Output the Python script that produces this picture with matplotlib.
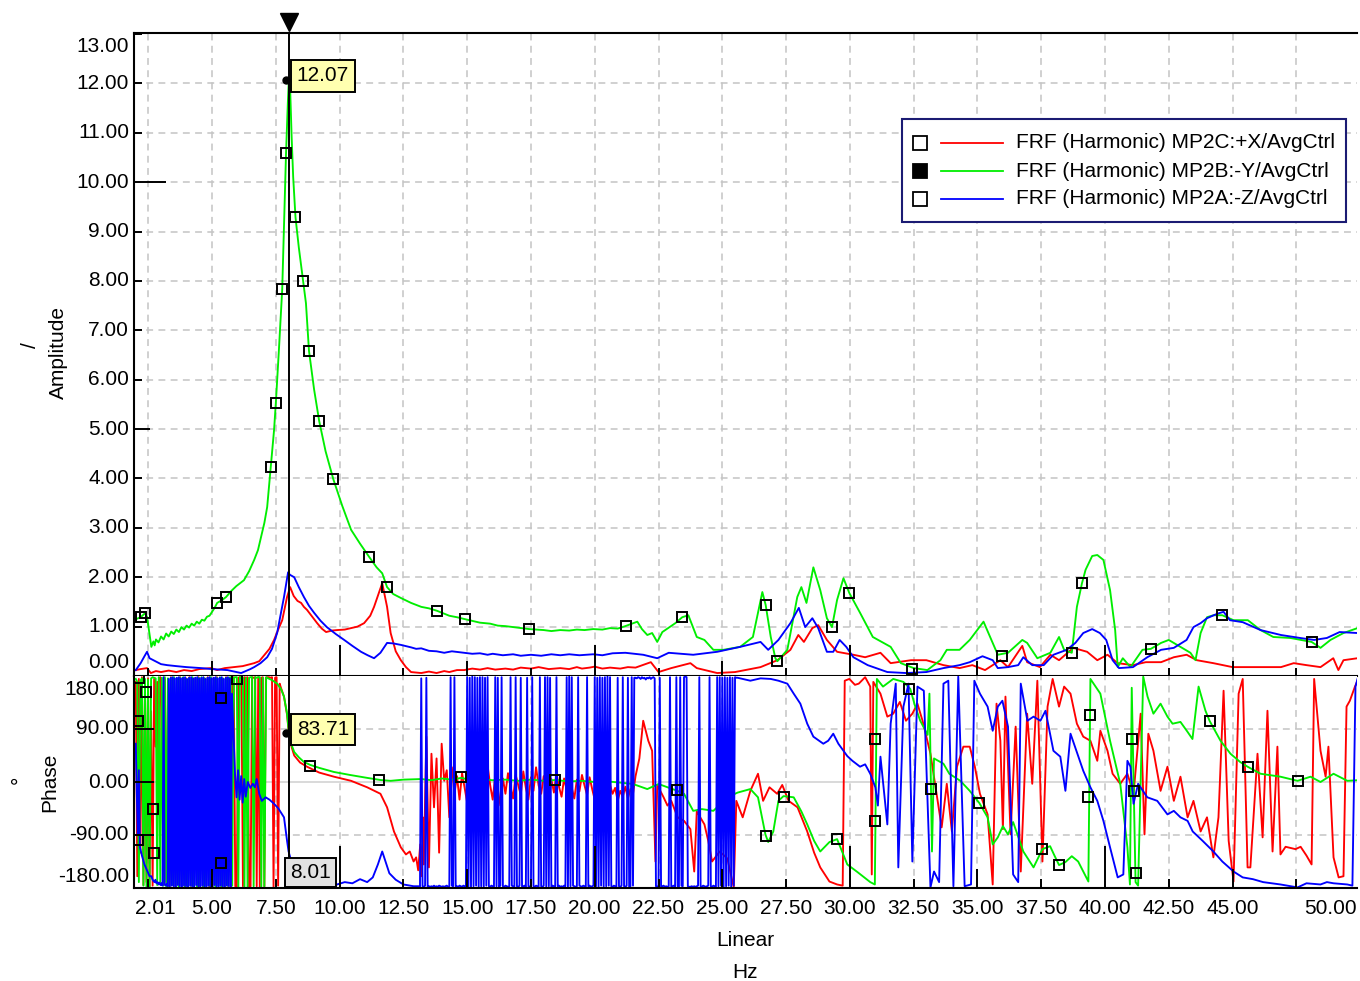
import numpy as np
import matplotlib
matplotlib.use("Agg")
import matplotlib.pyplot as plt
import matplotlib.transforms as mtransforms
from matplotlib.patches import Rectangle
from matplotlib.lines import Line2D

plt.rcParams['font.family'] = ['Liberation Sans', 'DejaVu Sans']

W, H, DPI = 1360, 981, 100
FS = 15

RED, GREEN, BLUE = '#ff0000', '#00ee00', '#0000ff'

series_names = ["FRF (Harmonic) MP2C:+X/AvgCtrl",
                "FRF (Harmonic) MP2B:-Y/AvgCtrl",
                "FRF (Harmonic) MP2A:-Z/AvgCtrl"]

cursor_hz = 8.01
cursor_amp = 12.07
cursor_phase = 83.71

# ---------------- amplitude (Hz, value) ----------------
green_amp = [(2.01, 1.15), (2.2, 1.19), (2.37, 1.27), (2.45, 1.2), (2.55, 0.85), (2.62, 0.59),
             (2.7, 0.70), (2.75, 0.62), (2.8, 0.74), (2.9, 0.68), (3.0, 0.80), (3.1, 0.74),
             (3.2, 0.86), (3.3, 0.80), (3.4, 0.90), (3.5, 0.85), (3.6, 0.94), (3.7, 0.89),
             (3.8, 0.99), (3.9, 0.94), (4.0, 1.02), (4.1, 0.98), (4.2, 1.06), (4.3, 1.02),
             (4.4, 1.10), (4.5, 1.06), (4.6, 1.14), (4.7, 1.12), (4.8, 1.20), (4.9, 1.22),
             (5.0, 1.30), (5.1, 1.38), (5.2, 1.48), (5.4, 1.54), (5.55, 1.60), (5.75, 1.72),
             (5.95, 1.82), (6.1, 1.88), (6.25, 1.94), (6.45, 2.12), (6.65, 2.35), (6.8, 2.55),
             (6.92, 2.81), (7.05, 3.1), (7.16, 3.42), (7.3, 4.23), (7.43, 4.98), (7.5, 5.53),
             (7.62, 6.6), (7.75, 7.83), (7.9, 10.59), (7.97, 11.6), (8.01, 12.07), (8.06, 11.9),
             (8.12, 10.9), (8.18, 10.1), (8.27, 9.29), (8.4, 8.68), (8.57, 8.0), (8.68, 7.55),
             (8.8, 6.58), (9.0, 5.8), (9.2, 5.16), (9.45, 4.55), (9.75, 3.99), (10.1, 3.45),
             (10.45, 2.96), (10.8, 2.68), (11.16, 2.41), (11.45, 2.2), (11.67, 2.08), (11.86, 1.80),
             (12.1, 1.66), (12.4, 1.58), (12.8, 1.48), (13.2, 1.40), (13.5, 1.37), (13.82, 1.32),
             (14.3, 1.22), (14.6, 1.19), (14.92, 1.15), (15.5, 1.08), (15.9, 1.06), (16.2, 1.02),
             (16.5, 1.01), (16.8, 0.99), (17.1, 0.97), (17.43, 0.95), (18.0, 0.93), (18.3, 0.91),
             (18.65, 0.93), (19.0, 0.92), (19.3, 0.94), (19.6, 0.93), (19.94, 0.95), (20.3, 0.94),
             (20.6, 0.97), (20.9, 0.96), (21.2, 1.01), (21.67, 1.1),
             (21.85, 0.95), (22.06, 0.83), (22.25, 0.87), (22.45, 0.69), (22.65, 0.89), (23.16, 1.07),
             (23.43, 1.19), (23.67, 1.23), (24.0, 0.79), (24.3, 0.73), (24.65, 0.53), (25.04, 0.53),
             (25.7, 0.59), (26.2, 0.79), (26.45, 1.4), (26.57, 1.70), (26.7, 1.44), (26.9, 0.79),
             (27.08, 0.36), (27.16, 0.30), (27.55, 0.53), (27.94, 1.6), (28.1, 1.8), (28.3, 1.48),
             (28.57, 2.2), (28.84, 1.74), (29.1, 1.17), (29.3, 0.99), (29.5, 1.54), (29.75, 1.98),
             (29.98, 1.68), (30.4, 1.28), (30.9, 0.79), (31.6, 0.59), (32.0, 0.26), (32.5, 0.16),
             (33.04, 0.12), (33.55, 0.32), (33.8, 0.53), (34.3, 0.53), (34.7, 0.73), (35.24, 1.1),
             (35.5, 0.79), (35.8, 0.43), (36.2, 0.47), (36.76, 0.73), (36.95, 0.67), (37.35, 0.36),
             (37.86, 0.47), (38.2, 0.79), (38.4, 0.53), (38.7, 0.47), (38.9, 1.4), (39.1, 1.88),
             (39.24, 2.15), (39.5, 2.43), (39.7, 2.45), (39.94, 2.35), (40.2, 1.74), (40.4, 0.93),
             (40.5, 0.18), (40.7, 0.36), (41.0, 0.18), (41.47, 0.53), (41.8, 0.55), (42.2, 0.67),
             (42.5, 0.73), (42.96, 0.59), (43.35, 0.47), (43.55, 0.32), (43.75, 0.87), (44.0, 1.19),
             (44.25, 1.23), (44.6, 1.23), (45.04, 1.13), (45.6, 1.13), (46.1, 0.93), (46.6, 0.79),
             (47.27, 0.77), (48.1, 0.69), (48.45, 0.57), (48.84, 0.73), (49.35, 0.87), (49.9, 0.97)]

red_amp = [(2.01, 0.12), (2.2, 0.14), (2.45, 0.16), (2.6, 0.06), (2.8, 0.1), (3.0, 0.08),
           (3.3, 0.11), (3.6, 0.08), (3.9, 0.12), (4.2, 0.1), (4.5, 0.14), (4.96, 0.16),
           (5.2, 0.12), (5.5, 0.16), (5.86, 0.18), (6.2, 0.2), (6.65, 0.26), (6.85, 0.3),
           (7.04, 0.42), (7.25, 0.55), (7.43, 0.73), (7.6, 0.95), (7.75, 1.13), (7.94, 1.6),
           (8.06, 1.8), (8.2, 1.62), (8.35, 1.52), (8.49, 1.48), (8.6, 1.40), (8.72, 1.34),
           (8.9, 1.22), (9.12, 1.07), (9.3, 0.96), (9.47, 0.89), (9.7, 0.92), (9.9, 0.93),
           (10.2, 0.94), (10.45, 0.97), (10.7, 1.0), (10.96, 1.07), (11.2, 1.22), (11.35, 1.4),
           (11.55, 1.7), (11.67, 1.88), (11.78, 1.6), (11.86, 1.4), (12.0, 0.87), (12.2, 0.5),
           (12.4, 0.32), (12.6, 0.18), (12.8, 0.08), (13.2, 0.06), (13.5, 0.09), (13.8, 0.06),
           (14.1, 0.1), (14.3, 0.08), (14.6, 0.12), (14.88, 0.12), (15.2, 0.15), (15.5, 0.13),
           (15.8, 0.16), (16.1, 0.13), (16.5, 0.15), (16.8, 0.13), (17.1, 0.17), (17.5, 0.15),
           (17.8, 0.18), (18.2, 0.14), (18.65, 0.16), (19.0, 0.14), (19.3, 0.18), (19.5, 0.15),
           (19.8, 0.17), (20.0, 0.19), (20.3, 0.15), (20.6, 0.17), (21.0, 0.15), (21.3, 0.18),
           (21.6, 0.17), (22.2, 0.28), (22.5, 0.08), (23.0, 0.16),
           (23.75, 0.26), (24.0, 0.16), (24.8, 0.06), (25.5, 0.08), (26.5, 0.18), (27.16, 0.32),
           (27.67, 0.53), (27.98, 0.83), (28.2, 0.69), (28.53, 0.97), (28.76, 1.03), (29.1, 0.73),
           (29.5, 0.49), (30.14, 0.43), (30.6, 0.38), (31.2, 0.47), (31.6, 0.26), (32.4, 0.32),
           (33.0, 0.32), (33.67, 0.22), (34.3, 0.16), (34.8, 0.22), (35.3, 0.12), (35.9, 0.32),
           (36.2, 0.18), (36.76, 0.61), (36.95, 0.28), (37.45, 0.18), (37.86, 0.43), (38.2, 0.32),
           (38.76, 0.57), (39.3, 0.49), (39.7, 0.32), (40.1, 0.43), (40.5, 0.26), (41.1, 0.22),
           (41.6, 0.28), (42.2, 0.28), (42.7, 0.38), (43.2, 0.43), (43.6, 0.32), (44.25, 0.26),
           (45.0, 0.18), (46.1, 0.18), (46.9, 0.18), (47.4, 0.26), (47.9, 0.22), (48.45, 0.18),
           (48.95, 0.36), (49.15, 0.12), (49.35, 0.32), (49.9, 0.36)]

blue_amp = [(2.01, 0.12), (2.2, 0.26), (2.35, 0.4), (2.45, 0.49), (2.55, 0.36), (2.7, 0.32),
            (3.0, 0.24), (3.24, 0.22), (3.6, 0.2), (4.0, 0.18), (4.57, 0.16), (5.0, 0.14),
            (5.6, 0.12), (6.14, 0.06), (6.5, 0.14), (6.65, 0.18), (6.9, 0.26), (7.16, 0.38),
            (7.35, 0.55), (7.55, 0.87), (7.82, 1.6), (7.98, 2.1), (8.05, 2.05), (8.22, 2.0),
            (8.4, 1.8), (8.6, 1.6), (8.8, 1.42), (9.0, 1.28), (9.25, 1.12), (9.5, 0.99),
            (9.85, 0.85), (10.18, 0.73), (10.5, 0.61), (10.84, 0.49), (11.1, 0.42), (11.35, 0.36),
            (11.6, 0.47), (11.86, 0.67), (12.1, 0.66), (12.4, 0.63), (12.8, 0.58), (13.0, 0.55),
            (13.2, 0.56), (13.5, 0.51), (13.8, 0.50), (14.1, 0.47), (14.4, 0.50), (14.88, 0.47),
            (15.2, 0.45), (15.5, 0.46), (15.8, 0.43), (16.0, 0.45), (16.4, 0.42), (16.8, 0.44),
            (17.1, 0.41), (17.5, 0.43), (17.9, 0.41), (18.3, 0.44), (18.65, 0.42), (19.0, 0.44),
            (19.4, 0.42), (19.94, 0.44), (20.3, 0.42), (20.7, 0.46),
            (21.2, 0.47), (21.9, 0.43), (22.45, 0.36), (22.9, 0.47), (23.86, 0.43), (24.8, 0.49),
            (25.7, 0.59), (26.5, 0.69), (26.8, 0.53), (27.2, 0.73), (27.67, 1.07), (28.0, 1.38),
            (28.25, 0.99), (28.53, 1.17), (28.76, 0.97), (29.1, 0.49), (29.35, 0.49), (29.6, 0.73),
            (29.86, 0.59), (30.14, 0.38), (30.7, 0.22), (31.47, 0.08), (32.2, 0.06), (33.0, 0.08),
            (33.67, 0.16), (34.3, 0.22), (34.7, 0.28), (35.2, 0.40), (35.6, 0.32), (35.8, 0.16),
            (36.2, 0.18), (36.6, 0.22), (36.8, 0.38), (37.15, 0.22), (37.6, 0.22), (37.98, 0.43),
            (38.5, 0.53), (38.84, 0.67), (39.15, 0.87), (39.5, 0.95), (39.8, 0.87), (40.05, 0.73),
            (40.3, 0.32), (40.55, 0.16), (41.1, 0.18), (41.66, 0.38), (42.2, 0.53), (42.7, 0.57),
            (43.2, 0.73), (43.47, 0.99), (43.75, 1.07), (44.0, 1.17), (44.4, 1.26), (44.65, 1.30),
            (44.9, 1.13), (45.4, 1.09), (46.1, 0.93), (46.9, 0.83), (47.65, 0.77), (48.2, 0.73),
            (48.7, 0.77), (49.2, 0.89), (49.9, 0.87)]

amp_marker_hz = [2.2, 2.37, 5.2, 5.55, 7.3, 7.5, 7.75, 7.9, 8.27, 8.57, 8.8, 9.2, 9.75, 11.16,
                 11.86, 13.82, 14.92, 17.43, 21.24, 23.43, 26.7, 27.16, 29.3, 29.98, 32.45,
                 35.98, 38.7, 39.1, 41.8, 44.6, 48.1]
amp_marker_val = [1.19, 1.27, 1.48, 1.60, 4.23, 5.53, 7.83, 10.59, 9.29, 8.0, 6.58, 5.16, 3.99,
                  2.41, 1.80, 1.32, 1.15, 0.95, 1.01, 1.19, 1.44, 0.30, 0.99, 1.68, 0.14,
                  0.40, 0.47, 1.88, 0.55, 1.23, 0.69]

# ---------------- phase ----------------
# wrapped low-frequency bins (0.06 Hz spacing from 2.01 Hz)
red_phase_low = [170, -160, 175, -120, 178, -175, 160, -170, 176, -178, 120, -176, 175, 60, 170,
                 -40, 178, 150, -175, 175, -170,
                 170, -178, 178, -170, 175, -178, 172, -175, 178, -176, 174, -178, 176, -172, 178,
                 -176, 170, -178, 177, -174, 178, -177, 173, -178, 176, -175, 178, -177, 171, -178,
                 177, -176, 178, -172, 176, -178, 174, -177,
                 178, -176, 177, -178, 176, 178, -177, -178, 177, 178, 178, -177, 178, 177, 178,
                 -178, -177, 178, 177, 178, -177, 178, -178, 177, 178, -178, 177, 178, 178, 177,
                 178, -178, 177, 178, -176]
green_phase_low = [175, 170, -170, 172, 176, -176, 175, -178, 174, -177, 176, 178, 177, 176, -175,
                   178, -170, 177,
                   -176, 178, -177, 176, -178, 177, -175, 178, -177, 176, -178, 177, -176, 178,
                   -177, 175, -178, 177, -176, 178, -177, 176,
                   -178, 177, -175, 178, -177, 176, -178, 177, -176, 178, -177, 175, -178, 177,
                   -176, 178, -177, 176, -178, 177,
                   -176, 177, 178, -176, 177, 178, 178, -178, 178, 177, 178, -178, 177, -178, 177,
                   178, 178, -177, 178, 177, 178, 178, -178, 177, -177]
# blue low-frequency bins (0.04 Hz spacing from 2.62 Hz)
blue_phase_low = [-160, -165, -168, -170, -166, -172, -170, -174, -171, -175, -172, -176, 178, -174,
                  -176, -173, -177, 175,
                  -178, 177, -176, 178, -177, 176, -178, 177, -175, 178, -177, 176, -178, 177,
                  -176, 178, -177, 175, -178, 177,
                  -176, 178, -177, 176, -178, 177, -175, 178, -177, 176, -178, 177, -176, 178,
                  -177, 175, -178, 177, -176, 178,
                  -177, 176, -178, 177, -175, 178, -177, 176, -178, 177, -176, 178, -177, 175,
                  -178, 177, -176, 178, -177, 176, -178, 150]
# blue mid-band bins (0.05 Hz spacing from 13.10 Hz)
blue_phase_mid = [-177, -178, 176, -177, -178, -176, 177, -178, -177, -178,
                  -177, -178, -176, -178, -177, -178, -176, -177, -178, -177,
                  -178, -177, -176, -178, -177, 178, -176, -177, 178, -178,
                  -177, -178, -176, -177, -178, -176, -177, -178, 178, -178,
                  177, -178, 179, -177, 178, -176, 177, -178, 178, -177,
                  178, -178, 177, -176, 178, -177, -178, -176, -177, -178,
                  178, -177, 177, -178, -176, 178, -177, -178, -176, -177,
                  -178, -177, 178, -176, -177, -178, 178, -177, -178, -176,
                  177, -178, -177, -176, -178, 177, -177, -178, -176, 178,
                  -177, -178, -176, -177, -178, 178, -177, -178, -176, 178,
                  -178, 178, -177, 177, -178, -176, -177, -178, 178, -177,
                  -176, -178, -177, -178, -176, -177, 178, -178, 179, -177,
                  178, -176, -177, -178, -177, 178, -176, -177, -178, -176,
                  -177, -178, 178, -177, -176, -178, -177, -176, 178, -177,
                  177, -178, 178, -176, 177, -178, 178, -177, 179, -176,
                  178, -177, -178, -176, -177, -178, 177, -177, -178, -176,
                  178, -177, -178, -176, 177, -178, -177, 178, -176, 177,
                  177, 176, 178, 177, 175, 178, 176, 177, 174, 177,
                  176, 178, 175, 177, 178, 176, -177, -178, -176, 177,
                  -178, -177, -176, -178, -177, -178, -177, 178, -178, -177,
                  -176, -178, 178, -177, -178, 178, -176, -177, 178, 179,
                  178, -177, -178, -178, -177, -178, -177, -178, -177, -176,
                  178, -177, -178, -176, -177, -178, -177, -176, 178, -177,
                  -178, -176, -177, -178, 178, -177, 178, -176, 177, -178,
                  178, -177, 177, -176, 178, -178, 177, -176, 178, 177]
# red mid-band bins (0.1 Hz spacing from 13.3 Hz)
red_phase_mid = [-140, 77, -145, 48, -43, 40, -120, 65, 2, 20, -60, 25, -20, 10, -30, 15, -10, -35,
                 5, -18, 22, -8, -25, 8, -15, 28, -5, -30, 10, -12, -40, 6, -20, 15, -8, -28, 12,
                 -5, -22, 18, -10, -30, 8, -15, 25, -6, -20, 10, -12, -35, 5, -18, 15, -8, -25, 6,
                 -14, 20, -10, -28, 4, -16, 12, -6, -22, 8, -12, -30, 2, -18, 10, -8, -25, -5, -20,
                 -10, -32, -15, -25, -8, -28, -12, -20, 10]

green_phase = [(7.12, 178), (7.2, 176), (7.35, 173), (7.55, 167), (7.7, 158), (7.82, 145),
               (7.94, 116), (8.01, 83.71), (8.1, 65), (8.22, 51), (8.4, 42), (8.6, 34), (8.85, 29),
               (9.2, 24), (9.78, 17), (10.4, 12), (11.08, 7), (11.6, 3.4), (12.0, 2), (12.5, 4),
               (13.2, 5), (13.6, 3), (14.0, 6), (14.4, 4), (14.76, 7), (15.1, 4), (15.5, 5),
               (16.0, 3), (16.5, 4), (17.0, 2), (17.5, 4), (18.0, 2), (18.45, 3.4), (19.0, 1),
               (19.5, 2), (20.0, 0), (20.5, 1), (21.0, -1), (21.5, -3.4), (22.06, -12), (22.5, -3.4),
               (23.24, -15),
               (23.5, -20), (23.86, -49), (24.2, -46), (24.65, -49), (25.2, -26), (25.6, -18),
               (26.1, -12), (26.4, -26), (26.69, -89), (26.8, -102), (27.0, -84), (27.2, -32),
               (27.4, -24), (27.8, -26), (28.1, -50), (28.33, -72), (28.6, -100), (28.84, -118),
               (29.2, -102), (29.5, -97), (29.9, -140), (30.3, -153), (30.8, -170), (30.98, -174),
               (31.06, 175), (31.3, 162), (31.7, 175), (32.1, 170), (32.37, 158), (32.55, 130),
               (32.76, 104), (33.05, 80), (33.12, 150), (33.22, -118), (33.3, 40), (33.67, 31),
               (33.9, 14), (34.33, 2), (34.7, -15), (35.08, -36), (35.4, -60), (35.6, -106),
               (35.8, -94), (36.0, -75), (36.2, -89), (36.4, -68), (36.8, -118), (37.2, -145),
               (37.55, -114), (37.85, -109), (38.0, -123), (38.2, -141), (38.45, -136),
               (38.7, -126), (38.95, -135), (39.35, -169), (39.43, 175), (39.82, 150), (40.2, 70),
               (40.6, -3), (40.88, -111), (40.98, -174), (41.05, 160), (41.2, -170), (41.3, -176),
               (41.5, 179), (41.67, 145), (41.9, 116), (42.18, 133), (42.45, 111), (42.65, 99),
               (42.96, 102), (43.24, 85), (43.43, 73), (43.67, 162), (43.94, 121), (44.1, 104),
               (44.53, 70), (44.92, 48), (45.3, 34), (45.59, 26), (46.1, 14), (46.88, 9),
               (47.55, 2), (48.06, 9), (48.45, 0), (48.96, 14), (49.5, 2), (49.9, 3)]

red_phase_a = [(7.65, 167), (7.7, 160), (7.82, 145), (7.94, 114), (8.01, 82), (8.1, 62), (8.22, 45),
               (8.45, 33), (8.72, 26), (9.2, 16), (9.78, 9), (10.45, 2), (11.08, -9), (11.6, -20),
               (11.86, -43), (12.13, -84), (12.4, -111), (12.6, -123), (12.75, -118), (12.9, -135),
               (13.0, -128), (13.08, -150), (13.16, -106), (13.22, -160), (13.26, -60)]
red_phase_b = [(21.75, 40), (21.9, 104), (22.1, 70), (22.25, 53), (22.38, -135), (22.45, -5),
               (22.7, -26), (22.85, -40), (23.0, -32), (23.25, -60), (23.5, -66), (23.75, -80),
               (23.9, -152), (24.0, -50), (24.3, -72), (24.45, -100), (24.6, -135), (24.9, -118),
               (25.2, -130), (25.45, -179), (25.55, -32), (25.8, -60), (26.1, -15), (26.4, 14),
               (26.6, -32), (26.85, -9), (27.15, -20), (27.35, -5), (27.6, -32), (27.95, -43),
               (28.33, -84), (28.6, -120), (28.84, -145), (29.2, -169), (29.5, -174), (29.72, -176),
               (29.8, 172), (29.98, 175), (30.2, 165), (30.35, 167), (30.6, 178), (30.8, 162),
               (30.86, -157), (30.92, 170), (31.2, 150), (31.47, 111), (31.7, 116), (31.96, 136),
               (32.2, 104), (32.45, 116), (32.65, 133), (32.85, 104), (33.16, 48), (33.4, -20),
               (33.6, -77), (33.8, -3), (34.0, -84), (34.2, 26), (34.45, 60), (34.7, 60),
               (34.9, 26), (35.1, -20), (35.4, -55), (35.6, -174), (35.75, 133), (35.9, 70),
               (36.0, -80), (36.1, 145), (36.3, -89), (36.5, 94), (36.7, -152), (36.95, 116),
               (37.15, -3), (37.35, 172), (37.55, -135), (37.75, 128), (37.95, 175), (38.2, 128),
               (38.4, 162), (38.65, 150), (38.9, 99), (39.15, 77), (39.43, 70), (39.7, 36),
               (39.82, 87), (40.1, 53), (40.3, 14), (40.6, -3), (40.88, 14), (41.12, -20),
               (41.4, 116), (41.55, -89), (41.7, 82), (41.9, 53), (42.18, -15), (42.45, 26),
               (42.7, -32), (42.96, 9), (43.24, -60), (43.47, -32), (43.75, -84), (44.0, -60),
               (44.25, -128), (44.45, -60), (44.65, 155), (44.85, -100), (45.04, -169),
               (45.24, 150), (45.4, 175), (45.59, -145), (45.7, -145), (45.98, 48), (46.18, -94),
               (46.37, 121), (46.57, -118), (46.76, 60), (46.88, -123), (47.08, -110),
               (47.47, -114), (47.67, -110), (47.9, -125), (48.1, -140), (48.2, 175), (48.45, 53),
               (48.65, 9), (48.76, 60), (48.96, -128), (49.16, -162), (49.35, -160), (49.47, 128),
               (49.6, 138), (49.8, 162), (49.9, 172)]

blue_phase_a = [(2.01, 65), (2.05, -20), (2.09, -90), (2.13, 20), (2.17, -110), (2.25, -125),
                (2.35, -140), (2.45, -150), (2.55, -160)]
blue_phase_b = [(5.9, 14), (5.96, -26), (6.02, 20), (6.08, -30), (6.14, 10), (6.2, -35), (6.26, 5),
                (6.32, -25), (6.4, 0), (6.5, -10), (6.6, -3), (6.68, -9), (6.75, 5), (6.85, -20),
                (6.95, -32), (7.1, -26), (7.25, -30), (7.43, -37), (7.6, -45), (7.82, -60),
                (7.94, -100), (8.0, -118), (8.2, -150), (8.5, -165), (9.0, -172), (9.5, -174),
                (9.9, -174), (10.2, -170), (10.5, -172), (10.8, -165), (11.08, -170), (11.3, -162),
                (11.5, -140), (11.67, -118), (11.8, -135), (11.95, -155), (12.2, -166),
                (12.5, -174), (12.9, -177), (13.05, -177)]
blue_phase_c = [(25.6, 177), (26.1, 172), (26.5, 176), (26.9, 175), (27.2, 172), (27.55, 167),
                (27.8, 150), (28.06, 133), (28.33, 99), (28.57, 77), (28.96, 65), (29.15, 70),
                (29.35, 82), (29.55, 65), (29.9, 44), (30.1, 36), (30.4, 26), (30.6, 30),
                (30.8, 14), (31.0, -9), (31.1, -40), (31.2, 43), (31.47, -72), (31.6, 99),
                (31.8, 167), (31.9, -145), (32.1, 128), (32.3, 167), (32.45, -135), (32.65, 162),
                (32.9, 155), (33.16, -179), (33.3, -152), (33.5, -170), (33.67, 167), (33.86, 172),
                (34.06, -177), (34.25, 179), (34.5, -177), (34.75, -174), (34.88, 172), (35.1, 150),
                (35.4, 128), (35.6, 87), (35.8, 128), (35.98, 138), (36.2, 94), (36.4, -157),
                (36.6, -170), (36.7, 167), (36.96, 104), (37.2, 111), (37.47, 104), (37.67, 121),
                (37.98, 53), (38.25, 43), (38.45, -15), (38.65, 82), (38.92, 48), (39.15, 19),
                (39.43, -9), (39.7, -32), (39.94, -66), (40.2, -111), (40.5, -162), (40.72, -157),
                (40.88, 36), (41.0, 26), (41.12, -37), (41.3, -3), (41.66, -26), (42.05, -32),
                (42.45, -55), (42.7, -49), (42.96, -60), (43.24, -66), (43.44, -84), (43.83, -100),
                (44.25, -118), (44.6, -135), (45.04, -152), (45.4, -162), (45.8, -165),
                (46.2, -170), (46.88, -174), (47.55, -179), (47.9, -172), (48.45, -174),
                (48.7, -170), (48.96, -172), (49.5, -174), (49.7, -176), (49.82, 162), (49.9, 175)]

phase_marker_hz = [2.14, 2.1, 2.42, 2.7, 2.1, 2.72, 5.35, 5.35, 5.98, 8.85, 11.55, 14.77, 18.45,
                   23.24, 26.72, 27.4, 29.5, 31.0, 31.0, 32.33, 33.2, 35.08, 37.55, 38.2, 39.4,
                   39.35, 41.07, 41.15, 41.2, 44.1, 45.6, 47.55]
phase_marker_val = [177, 104, 152, -46, -99, -121, 142, -138, 175, 28, 4, 8, 4, -13, -92, -26, -97,
                    73, -66, 158, -12, -36, -114, -141, 114, -26, 73, -15, -155, 104, 26, 2]

amp_ticks = list(range(0, 14))
phase_ticks = [180, 90, 0, -90, -180]
freq_grid = [2.5 * k for k in range(1, 20)]
freq_labels = [2.5 * k for k in range(2, 19)]


def unzip(pairs):
    return [p[0] for p in pairs], [p[1] for p in pairs]


def grid_bins(start, step, values):
    return list(np.round(start + step * np.arange(len(values)), 3)), list(values)


def join(*parts):
    xs, ys = [], []
    for px, py in parts:
        xs += list(px)
        ys += list(py)
    return np.array(xs, float), np.array(ys, float)


g_amp_x, g_amp_y = unzip(green_amp)
r_amp_x, r_amp_y = unzip(red_amp)
b_amp_x, b_amp_y = unzip(blue_amp)

r_ph_x, r_ph_y = join(grid_bins(2.01, 0.06, red_phase_low), unzip(red_phase_a),
                      grid_bins(13.3, 0.1, red_phase_mid), unzip(red_phase_b))
g_ph_x, g_ph_y = join(grid_bins(2.01, 0.06, green_phase_low), unzip(green_phase))
b_ph_x, b_ph_y = join(unzip(blue_phase_a), grid_bins(2.62, 0.04, blue_phase_low),
                      unzip(blue_phase_b), grid_bins(13.1, 0.05, blue_phase_mid),
                      unzip(blue_phase_c))

# ---------------- figure ----------------
fig = plt.figure(figsize=(W / DPI, H / DPI), dpi=DPI)
fig.patch.set_facecolor('white')


def fx(px):
    return px / W


def fy(py):
    return 1 - py / H


def shift(dx, dy):
    return mtransforms.ScaledTranslation(dx / DPI, -dy / DPI, fig.dpi_scale_trans)


AX_L, AX_R = 134, 1357
TOP_T, MID, BOT_B = 33, 676, 888
ax1 = fig.add_axes([fx(AX_L), fy(MID), (AX_R - AX_L) / W, (MID - TOP_T) / H])
ax2 = fig.add_axes([fx(AX_L), fy(BOT_B), (AX_R - AX_L) / W, (BOT_B - MID) / H], sharex=ax1)

XMIN, XMAX = 1.94, 49.88
ax1.set_xlim(XMIN, XMAX)
ax1.set_ylim(0, 13.02)
ax2.set_ylim(-180, 180)

for ax in (ax1, ax2):
    ax.set_xticks([])
    ax.set_yticks([])
    ax.spines['right'].set_visible(False)
    for s in ('left', 'top', 'bottom'):
        ax.spines[s].set_linewidth(1.5)
        ax.spines[s].set_color('black')
ax2.spines['top'].set_visible(False)

GRID_KW = dict(color='#c4c4c4', lw=1.1, dashes=(4.5, 3.5), zorder=0.5)
for gx in freq_grid:
    ax1.axvline(gx, **GRID_KW)
    ax2.axvline(gx, **GRID_KW)
for gy in range(1, 13):
    ax1.axhline(gy, **GRID_KW)
for gy in (90, -90):
    ax2.axhline(gy, **GRID_KW)
ax2.axhline(0, color='#d0d0d0', lw=1.1, zorder=0.5)

# inward tick marks
top_h, bot_h, ax_w = MID - TOP_T, BOT_B - MID, AX_R - AX_L
for gx in freq_grid:
    if abs(gx % 10) < 1e-9:
        l1, l2 = 31, 42
    elif abs(gx % 5) < 1e-9:
        l1, l2 = 15, 19
    else:
        l1, l2 = 8, 9
    ax1.plot([gx, gx], [0, l1 / top_h], transform=ax1.get_xaxis_transform(), color='k', lw=1.4,
             solid_capstyle='butt', zorder=4)
    ax2.plot([gx, gx], [0, l2 / bot_h], transform=ax2.get_xaxis_transform(), color='k', lw=1.4,
             solid_capstyle='butt', zorder=4)
for v in amp_ticks[1:]:
    ln = 32 if v == 10 else (16 if v == 5 else 8)
    ax1.plot([0, ln / ax_w], [v, v], transform=ax1.get_yaxis_transform(), color='k', lw=1.4,
             solid_capstyle='butt', zorder=4)
for v in (90, 0, -90):
    ax2.plot([0, 20 / ax_w], [v, v], transform=ax2.get_yaxis_transform(), color='k', lw=1.4,
             solid_capstyle='butt', zorder=4)

# tick labels
for v in amp_ticks:
    dy = -13 if v == 0 else (13 if v == 13 else 0)
    ax1.text(0, v, f"{v:.2f}", transform=ax1.get_yaxis_transform() + shift(-5, dy),
             ha='right', va='center', fontsize=FS)
for v in phase_ticks:
    dy = 14 if v == 180 else (-12 if v == -180 else 0)
    ax2.text(0, v, f"{v:.2f}", transform=ax2.get_yaxis_transform() + shift(-5, dy),
             ha='right', va='center', fontsize=FS)
for v in freq_labels:
    ax2.text(v, 0, f"{v:.2f}", transform=ax2.get_xaxis_transform() + shift(0, 20),
             ha='center', va='center', fontsize=FS)
ax2.text(0, 0, "2.01", transform=ax2.transAxes + shift(1, 20), ha='left', va='center', fontsize=FS)
ax2.text(1, 0, "50.00", transform=ax2.transAxes + shift(0, 20), ha='right', va='center',
         fontsize=FS)

# curves
LW = 1.35
ax1.plot(r_amp_x, r_amp_y, color=RED, lw=LW, zorder=2)
ax1.plot(b_amp_x, b_amp_y, color=BLUE, lw=LW, zorder=2.2)
ax1.plot(g_amp_x, g_amp_y, color=GREEN, lw=LW, zorder=2.1)
ax2.plot(r_ph_x, r_ph_y, color=RED, lw=LW, zorder=2)
ax2.plot(g_ph_x, g_ph_y, color=GREEN, lw=LW, zorder=2.1)
ax2.plot(b_ph_x, b_ph_y, color=BLUE, lw=LW, zorder=2.2)

MK = dict(ls='none', marker='s', ms=6.5, mfc='none', mec='black', mew=1.4, zorder=3)
ax1.plot(amp_marker_hz, amp_marker_val, **MK)
ax2.plot(phase_marker_hz, phase_marker_val, **MK)

# cursor
for ax in (ax1, ax2):
    ax.axvline(cursor_hz, color='black', lw=1.4, zorder=4)
ax1.plot([cursor_hz], [1.0165], marker='v', ms=13, color='black',
         transform=ax1.get_xaxis_transform(), clip_on=False, zorder=6)
ax1.plot([cursor_hz], [cursor_amp], 'o', ms=5, color='black',
         transform=ax1.transData + shift(-3, 0), zorder=5)
ax2.plot([cursor_hz], [cursor_phase], 'o', ms=5, color='black',
         transform=ax2.transData + shift(-3, 0), zorder=5)
ax1.text(cursor_hz, cursor_amp, f"{cursor_amp:.2f}", transform=ax1.transData + shift(8, -4),
         ha='left', va='center', fontsize=FS, zorder=7,
         bbox=dict(boxstyle='square,pad=0.3', fc='#ffffb0', ec='black', lw=1.4))
ax2.text(cursor_hz, cursor_phase, f"{cursor_phase:.2f}", transform=ax2.transData + shift(8, -3),
         ha='left', va='center', fontsize=FS, zorder=7,
         bbox=dict(boxstyle='square,pad=0.3', fc='#ffffb0', ec='black', lw=1.4))
ax2.text(cursor_hz, 0, f"{cursor_hz:.2f}", transform=ax2.get_xaxis_transform() + shift(1, -6),
         ha='left', va='bottom', fontsize=FS, zorder=7,
         bbox=dict(boxstyle='square,pad=0.25', fc='#e2e2e2', ec='black', lw=1.4))

# axis titles
fig.text(fx(58), fy(353), "Amplitude", rotation=90, ha='center', va='center', fontsize=FS)
fig.text(fx(30), fy(345), "/", rotation=90, ha='center', va='center', fontsize=FS)
fig.text(fx(50), fy(782), "Phase", rotation=90, ha='center', va='center', fontsize=FS)
fig.text(fx(20), fy(780), "°", rotation=90, ha='center', va='center', fontsize=FS)
fig.text(fx(745), fy(940), "Linear", ha='center', va='center', fontsize=FS)
fig.text(fx(745), fy(972), "Hz", ha='center', va='center', fontsize=FS)

# legend
LX0, LY0, LX1, LY1 = 902, 119, 1346, 222
fig.add_artist(Rectangle((fx(LX0), fy(LY1)), (LX1 - LX0) / W, (LY1 - LY0) / H,
                         transform=fig.transFigure, fc='white', ec='#1b1b73', lw=1.5, zorder=10))
rows = [143, 171, 199]
colors = [RED, GREEN, BLUE]
filled = [False, True, False]
for ry, col, fill, name in zip(rows, colors, filled, series_names):
    fig.add_artist(Rectangle((fx(913), fy(ry + 7)), 14 / W, 14 / H, transform=fig.transFigure,
                             fc='black' if fill else 'white', ec='black', lw=1.3, zorder=11))
    fig.add_artist(Line2D([fx(941), fx(1003)], [fy(ry), fy(ry)], transform=fig.transFigure,
                          color=col, lw=1.3, zorder=11))
    fig.text(fx(1016), fy(ry), name, ha='left', va='center', fontsize=FS, zorder=12)

fig.savefig("out.png", dpi=DPI)
